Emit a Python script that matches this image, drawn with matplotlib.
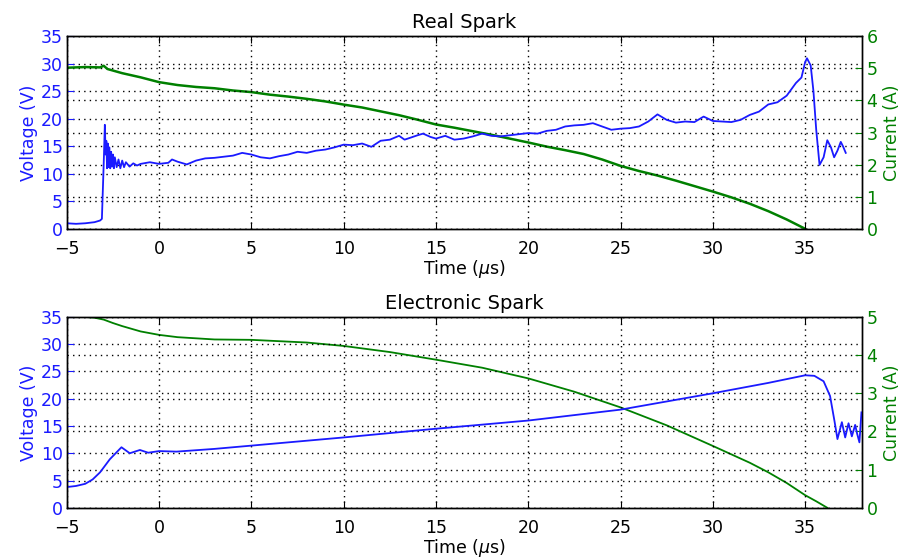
import matplotlib
matplotlib.use("Agg")
import matplotlib.pyplot as plt
import numpy as np

# ---------------- Real Spark data ----------------
real_v_t = [-5.0, -4.5, -4.0, -3.5, -3.2, -3.1, -3.0, -2.94, -2.9, -2.86, -2.82, -2.78, -2.74, -2.7,
            -2.65, -2.6, -2.55, -2.5, -2.45, -2.4, -2.3, -2.2, -2.1, -2.0, -1.9, -1.8, -1.6, -1.4,
            -1.2, -1.0, -0.5, 0.0, 0.5, 0.7, 1.0, 1.5, 2.0, 2.5, 3.0, 3.5, 4.0, 4.5, 5.0, 5.5, 6.0,
            6.5, 7.0, 7.5, 8.0, 8.5, 9.0, 9.5, 10.0, 10.5, 11.0, 11.5, 12.0, 12.5, 13.0, 13.3,
            14.0, 14.3, 14.7, 15.0, 15.5, 16.0, 16.5, 17.0, 17.5, 18.0, 18.5, 19.0, 20.0, 20.5,
            21.0, 21.5, 22.0, 22.5, 23.0, 23.5, 24.0, 24.5, 25.0, 25.5, 26.0, 26.5, 27.0, 27.5,
            28.0, 28.5, 29.0, 29.5, 30.0, 30.5, 31.0, 31.5, 32.0, 32.5, 33.0, 33.5, 34.0, 34.5,
            34.8, 35.0, 35.1, 35.3, 35.45, 35.6, 35.78, 36.0, 36.2, 36.4, 36.57, 36.75, 36.93,
            37.05, 37.2]
real_v = [1.0, 0.9, 1.0, 1.2, 1.5, 1.8, 12.0, 18.9, 13.5, 16.0, 11.0, 15.5, 11.2, 14.8,
          11.0, 14.0, 11.3, 13.5, 11.0, 13.0, 11.2, 12.6, 11.0, 12.4, 11.2, 12.1, 11.3, 11.9,
          11.5, 11.8, 12.1, 11.8, 12.0, 12.6, 12.2, 11.7, 12.4, 12.8, 12.9, 13.1, 13.3, 13.8,
          13.5, 13.0, 12.8, 13.2, 13.5, 14.0, 13.8, 14.2, 14.4, 14.8, 15.3, 15.2, 15.5, 14.9,
          16.0, 16.2, 16.9, 16.2, 17.0, 17.3, 16.7, 16.4, 16.9, 16.2, 16.4, 16.8, 17.3, 16.9,
          16.8, 17.0, 17.4, 17.3, 17.8, 18.0, 18.6, 18.8, 18.9, 19.2, 18.6, 18.0, 18.2, 18.3,
          18.6, 19.5, 20.8, 19.8, 19.3, 19.5, 19.4, 20.4, 19.6, 19.5, 19.4, 19.8, 20.7, 21.3,
          22.6, 23.0, 24.2, 26.5, 27.5, 30.3, 31.0, 29.7, 25.0, 18.0, 11.6, 13.0, 16.1, 14.8,
          13.0, 14.2, 15.8, 15.0, 13.8]

real_i_t = [-5.0, -4.0, -3.2, -3.0, -2.8, -2.0, -1.0, 0.0, 1.0, 2.0, 3.0, 4.0, 5.0, 6.0, 7.0,
            8.0, 9.0, 10.0, 11.0, 12.0, 13.0, 14.0, 15.0, 16.0, 17.0, 18.0, 19.0, 20.0, 21.0,
            22.0, 23.0, 24.0, 25.0, 26.0, 27.0, 28.0, 29.0, 30.0, 31.0, 32.0, 33.0, 34.0, 35.0]
real_i = [5.02, 5.04, 5.03, 5.08, 4.98, 4.85, 4.72, 4.57, 4.48, 4.42, 4.38, 4.31, 4.26, 4.18,
          4.12, 4.05, 3.97, 3.87, 3.78, 3.66, 3.54, 3.40, 3.25, 3.15, 3.04, 2.93, 2.81, 2.69,
          2.56, 2.45, 2.33, 2.16, 1.96, 1.80, 1.66, 1.50, 1.33, 1.16, 0.98, 0.78, 0.55, 0.29, 0.0]

# ---------------- Electronic Spark data ----------------
elec_v_t = [-5.0, -4.5, -4.0, -3.6, -3.2, -2.67, -2.04, -1.59, -1.04, -0.59, 0.0, 0.94, 3.0, 5.0,
            8.0, 10.0, 15.0, 20.0, 25.0, 30.0, 33.0, 35.0, 35.5, 36.0, 36.35, 36.6, 36.75,
            36.99, 37.17, 37.35, 37.53, 37.71, 37.8, 37.94, 38.05]
elec_v = [3.8, 4.0, 4.4, 5.2, 6.5, 8.9, 11.1, 10.0, 10.6, 10.1, 10.4, 10.3, 10.8, 11.4,
          12.3, 12.9, 14.5, 16.0, 18.0, 21.0, 22.9, 24.3, 24.2, 23.2, 20.5, 15.7, 12.6,
          15.7, 12.9, 15.5, 13.1, 15.2, 13.8, 12.0, 17.5]

elec_i_t = [-5.0, -4.0, -3.5, -3.0, -2.5, -2.0, -1.0, 0.0, 1.0, 2.0, 3.0, 5.0, 8.0, 10.0, 12.5,
            15.0, 17.5, 20.0, 22.5, 25.0, 27.5, 30.0, 32.0, 33.0, 34.0, 35.0, 35.6, 36.2]
elec_i = [5.0, 5.0, 4.98, 4.93, 4.84, 4.76, 4.62, 4.53, 4.47, 4.44, 4.41, 4.40, 4.33, 4.24,
          4.08, 3.88, 3.67, 3.39, 3.04, 2.63, 2.16, 1.62, 1.18, 0.93, 0.65, 0.33, 0.17, 0.0]

xticks = [-5, 0, 5, 10, 15, 20, 25, 30, 35]
vticks = [0, 5, 10, 15, 20, 25, 30, 35]

BLUE = (0.1, 0.1, 1.0)
GREEN = (0.0, 0.5, 0.0)
FS = 12.5
GRID = dict(color='k', linestyle=(0, (1, 3)), linewidth=1.0)

fig = plt.figure(figsize=(9.03, 5.58), dpi=100)
fig.patch.set_facecolor('white')

def make_panel(rect, title, vt, v, it, i, imax, ilw):
    ax = fig.add_axes(rect)
    ax2 = ax.twinx()
    ax.set_zorder(ax2.get_zorder() + 1)
    ax.patch.set_visible(False)
    ax.plot(vt, v, color=BLUE, lw=1.3, solid_joinstyle='round')
    ax2.plot(it, i, color=GREEN, lw=ilw)
    ax.set_xlim(-5, 38.1)
    ax.set_ylim(0, 35)
    ax2.set_ylim(0, imax)
    ax.set_xticks(xticks)
    ax.set_yticks(vticks)
    ax2.set_yticks(list(range(0, imax + 1)))
    ax.grid(True, **GRID)
    ax2.grid(True, **GRID)
    ax.set_title(title, fontsize=14, pad=6)
    ax.set_xlabel(r'Time ($\mu$s)', fontsize=FS, labelpad=0)
    ax.set_ylabel('Voltage (V)', color=BLUE, fontsize=FS, labelpad=2)
    ax2.set_ylabel('Current (A)', color=GREEN, fontsize=FS, labelpad=4)
    ax.tick_params(axis='x', direction='in', top=True, labelsize=FS, length=5, pad=8)
    ax.tick_params(axis='y', direction='in', labelsize=FS, length=5, colors=BLUE, pad=3)
    ax2.tick_params(axis='y', direction='in', labelsize=FS, length=5, colors=GREEN, pad=3)
    for a in (ax, ax2):
        for s in a.spines.values():
            s.set_linewidth(1.0)
            s.set_color('k')
    return ax, ax2

L, R = 0.074, 0.955
make_panel([L, 0.590, R - L, 0.345], 'Real Spark', real_v_t, real_v, real_i_t, real_i, 6, 1.8)
make_panel([L, 0.090, R - L, 0.342], 'Electronic Spark', elec_v_t, elec_v, elec_i_t, elec_i, 5, 1.3)

fig.savefig('out.png', dpi=100, facecolor='white')
